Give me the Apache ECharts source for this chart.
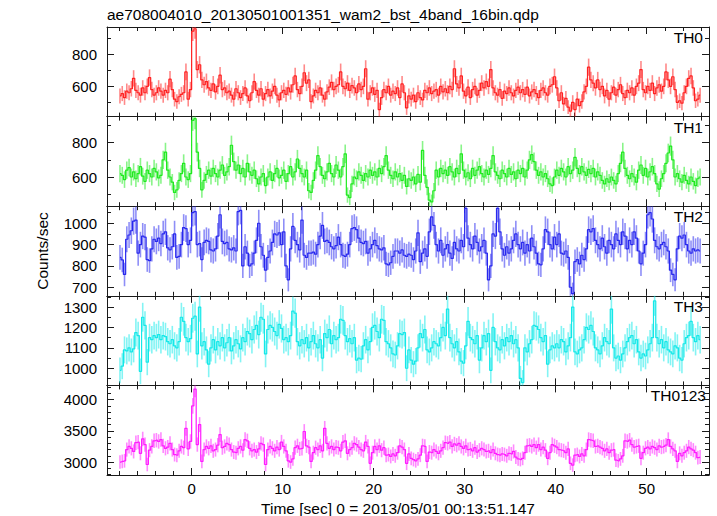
<!DOCTYPE html>
<html><head><meta charset="utf-8">
<script src="https://cdn.jsdelivr.net/npm/echarts@6/dist/echarts.min.js"></script>
<style>html,body{margin:0;padding:0;background:#fff}#c{width:717px;height:516px}</style>
</head><body><div id="c"></div>
<script>
const TITLE = 'ae708004010_20130501001351_wam2_bst_4band_16bin.qdp';
const X_TITLE = 'Time [sec] 0 = 2013/05/01 00:13:51.147';
const Y_TITLE = 'Counts/sec';
const BAND_NAMES = ['TH0', 'TH1', 'TH2', 'TH3', 'TH0123'];
const T_START = -7.875;   // centre of first 16-bin (0.25 s) time bin
const BIN = 0.25;

const th0 = [
540,555,530,570,560,585,650,575,560,545,590,560,600,655,580,545,
560,590,570,545,575,560,645,580,520,505,535,550,560,690,520,580,
945,960,705,735,640,610,630,590,575,615,565,600,670,580,590,560,
570,545,520,585,560,530,555,590,540,510,560,630,575,545,585,520,
555,580,540,570,600,545,515,560,575,550,590,565,610,665,580,555,
600,685,620,640,505,540,575,560,590,545,520,565,595,625,580,600,
610,690,600,585,620,575,605,590,560,615,580,600,710,520,560,590,
550,575,455,530,580,560,600,545,570,555,590,530,615,560,465,540,
520,545,505,560,530,515,575,560,590,555,570,580,545,600,565,585,
560,600,580,710,615,590,665,570,540,595,530,580,600,545,575,620,
590,630,600,705,590,560,545,580,525,570,555,590,560,540,575,595,
560,580,550,595,540,565,580,555,530,575,590,560,545,600,610,660,
590,510,560,490,525,470,445,500,455,520,480,505,565,600,720,640,
620,590,640,580,600,540,575,520,560,595,545,580,610,555,530,575,
560,590,545,600,620,705,580,560,600,575,620,555,590,610,570,600,
690,640,600,660,580,500,510,495,560,600,650,665,590,510,520,545];

const th1 = [
620,610,585,640,655,600,630,590,620,660,605,575,640,620,600,650,
630,595,610,700,745,640,600,570,510,525,580,620,680,600,585,620,
930,940,745,650,525,580,615,640,605,650,620,600,640,670,610,630,
660,785,690,640,670,620,650,600,680,630,610,640,590,560,600,620,
550,600,630,580,620,650,595,610,640,575,620,660,600,630,705,650,
620,600,640,520,510,580,640,725,660,610,590,630,680,620,600,670,
640,600,660,735,495,480,560,600,590,630,610,580,620,600,640,610,
630,600,650,620,660,725,640,610,590,630,600,620,580,610,545,590,
580,600,560,615,570,755,610,540,465,455,520,640,600,650,620,640,
610,660,630,600,650,620,735,640,600,625,590,650,610,640,660,620,
600,640,615,650,725,630,610,590,640,620,600,650,615,630,590,640,
620,650,600,640,700,730,690,640,610,630,600,620,590,560,550,600,
640,610,650,630,600,660,620,640,715,650,620,660,630,610,645,620,
650,600,630,610,580,560,590,570,600,580,560,620,680,745,650,610,
590,620,600,570,640,670,610,650,600,630,660,620,560,530,590,620,
680,740,780,700,600,620,590,570,610,580,560,600,575,550,590,600];

const th2 = [
840,828,760,925,945,965,1010,1015,860,900,940,935,830,825,880,925,
915,930,905,950,960,885,875,890,950,840,845,900,980,975,900,920,
1050,1055,900,905,830,910,920,915,875,870,880,940,1040,915,905,910,
880,875,885,870,1055,1060,800,890,860,800,810,860,920,1000,890,850,
780,840,870,910,950,945,955,900,960,800,735,880,985,920,900,875,
1015,850,840,860,860,865,855,900,940,990,915,920,910,890,880,895,
935,900,850,845,855,900,975,980,970,930,910,905,915,860,880,900,
920,895,880,875,885,810,805,815,845,870,870,860,875,850,845,855,
850,830,870,955,820,860,880,845,960,1030,990,900,870,920,850,880,
900,860,835,910,880,870,920,890,1070,930,900,880,940,910,870,890,
920,860,735,800,950,940,1070,960,880,850,890,860,880,920,950,900,
880,910,860,900,870,930,890,860,810,805,880,970,960,900,880,935,
900,950,860,855,870,840,700,670,820,830,810,850,830,880,970,960,
975,920,900,880,930,890,860,920,900,880,950,920,900,960,940,880,
920,900,960,930,870,810,860,900,1040,1050,1020,920,890,880,900,910,
890,870,780,760,735,880,940,930,945,900,870,860,880,870,875,870];

const th3 = [
990,1010,1090,1085,1100,1080,1095,1175,1160,985,1250,1210,1030,1150,1140,1160,
1150,1165,1140,1160,1155,1130,1120,1140,1110,1100,1130,1250,1230,1150,1130,1145,
1245,1255,1070,1300,1110,1130,1090,1020,1100,1140,1090,1130,1110,1150,1100,1125,
1150,1085,1110,1140,1120,1095,1150,1130,1180,1170,1140,1190,1210,1165,1250,1240,
1070,1190,1210,1200,1180,1160,1215,1195,1140,1150,1130,1160,1280,1270,1130,1110,
1140,1120,1150,1100,1130,1160,1120,1100,1140,1050,1170,1150,1190,1120,1160,1140,
1150,1240,1235,1160,1130,1145,1120,1150,1040,1050,1045,1110,1140,1090,1130,1200,
1210,1180,1150,1240,1235,1130,1120,1100,1070,1065,1110,1170,1165,1175,1000,1090,
1040,1020,1035,1100,1170,1150,1190,1090,1080,1100,1130,1120,1110,1150,1200,1160,
1290,1150,1120,1100,1130,1080,1035,1025,1110,1230,1150,1140,1120,1160,1040,1100,
1160,1130,1170,990,1200,1130,1100,1090,1140,1110,1150,1130,1160,1120,1140,1100,
950,930,1100,1080,1120,1140,1210,1205,1190,1150,1130,1160,1020,1090,1110,1100,
1120,1100,1140,1130,1080,1110,1150,1300,1080,1070,1090,1100,1140,1200,1190,1210,
1180,1100,1090,1070,1110,1150,1130,1120,1290,1100,1050,1060,1040,1070,1100,1130,
1150,1160,1120,1140,1080,1050,1070,1060,1090,1120,1150,1330,1150,1120,1140,1100,
1130,1090,1080,1070,1110,1100,1050,1040,1120,1150,1160,1230,1150,1130,1160,1140];

const th0123 = [
3000,3010,3020,3200,3250,3220,3170,3310,3320,3140,3370,3280,2960,3190,3250,3340,
3350,3330,3360,3260,3220,3240,3300,3200,3120,3110,3180,3250,3230,3540,3210,3330,
3900,4170,3280,3600,3010,3200,3250,3220,3260,3180,3200,3270,3440,3230,3250,3300,
3280,3200,3160,3150,3220,3250,3190,3360,3340,3220,3180,3200,3160,3210,3300,3280,
2960,3200,3250,3220,3180,3240,3200,3320,3250,3180,3020,3000,3050,3230,3260,3210,
3220,3490,3260,3240,3010,3150,3230,3200,3260,3180,3540,3300,3220,3250,3200,3240,
3230,3180,3320,3340,3140,3200,3230,3300,3280,3240,3200,3180,3320,3250,2980,3150,
3250,3200,3260,3190,3230,3110,3120,3090,3130,3100,3150,3260,3240,3200,2980,3130,
3060,3040,3020,3050,3110,3260,3250,3010,3160,3150,3200,3170,3140,3180,3230,3310,
3300,3320,3250,3290,3270,3300,3250,3220,3260,3200,3210,3180,3230,3160,3190,3220,
3200,3170,3180,3150,3200,3140,3120,3110,3130,3120,3100,3140,3130,3170,3080,3050,
3040,3060,3150,3260,3270,3250,3280,3230,3280,3200,3240,3190,3060,3150,3280,3260,
3240,3200,3190,3180,3150,3210,2980,2950,3110,3120,3090,3130,3100,3200,3360,3350,
3340,3250,3260,3240,3220,3180,3210,3150,3190,3200,3030,3020,3050,3100,3340,3330,
3350,3280,3240,3250,3260,3060,3150,3220,3240,3210,3250,3230,3200,3260,3240,3250,
3270,3360,3250,3210,3180,3010,3140,3100,3150,3180,3240,3210,3190,3150,3070,3080];

const xTickLabels = [0, 10, 20, 30, 40, 50];
const xMinorTicks = [-8,-6,-4,-2,2,4,6,8,12,14,16,18,22,24,26,28,32,34,36,38,42,44,46,48,52,54,56];

const th0Ticks = [600, 800];            const th0Minor = [500, 700, 900];
const th1Ticks = [600, 800];            const th1Minor = [500, 700, 900];
const th2Ticks = [700, 800, 900, 1000]; const th2Minor = [750, 850, 950, 1050];
const th3Ticks = [1000, 1100, 1200, 1300]; const th3Minor = [950, 1050, 1150, 1250, 1350];
const th0123Ticks = [3000, 3500, 4000];
const th0123Minor = [2800, 2900, 3100, 3200, 3300, 3400, 3600, 3700, 3800, 3900, 4100, 4200];

// ---- presentation ----
const bands = [th0, th1, th2, th3, th0123];
const majorTicks = [th0Ticks, th1Ticks, th2Ticks, th3Ticks, th0123Ticks];
const minorTicks = [th0Minor, th1Minor, th2Minor, th3Minor, th0123Minor];
const yRange = [[411, 971], [430, 952], [660, 1080], [916, 1355], [2792, 4229]];
const lineColors = ['#ff2020', '#1eea1e', '#2828ee', '#14e8e8', '#ff1cff'];
const errColors = ['rgba(255,40,40,0.55)', 'rgba(40,235,40,0.55)', 'rgba(50,50,240,0.55)', 'rgba(30,235,235,0.55)', 'rgba(255,40,255,0.55)'];
const X_MIN = -9.3, X_MAX = 56.85;
const LEFT = 107, WIDTH = 602, TOP = 27, PH = 89.6;
const FONT = '"Liberation Sans", Arial, Helvetica, sans-serif';
const FS = 15;
const FS_T = 15.5;

const chart = echarts.init(document.getElementById('c'), null, {renderer: 'svg', width: 717, height: 516});

const grids = [], xAxes = [], yAxes = [], series = [], graphics = [];
bands.forEach((vals, k) => {
  const top = TOP + k * PH;
  grids.push({left: LEFT, top: top, width: WIDTH, height: PH, show: false});
  const mkX = (pos, major) => ({
    type: 'value', gridIndex: k, position: pos, min: X_MIN, max: X_MAX,
    axisLine: {show: major, onZero: false, lineStyle: {color: '#1a1a1a', width: 1}},
    axisTick: {show: true, inside: true, length: major ? 7 : 4,
      customValues: major ? xTickLabels : xMinorTicks, lineStyle: {color: '#1a1a1a'}},
    axisLabel: {show: major && pos === 'bottom' && k === bands.length - 1,
      customValues: xTickLabels, formatter: v => String(v),
      color: '#000', fontFamily: FONT, fontSize: FS, margin: 6},
    splitLine: {show: false}
  });
  xAxes.push(mkX('bottom', true), mkX('bottom', false), mkX('top', true), mkX('top', false));
  const mkY = (pos, major) => ({
    type: 'value', gridIndex: k, position: pos, min: yRange[k][0], max: yRange[k][1],
    axisLine: {show: major, onZero: false, lineStyle: {color: '#1a1a1a', width: 1}},
    axisTick: {show: true, inside: true, length: major ? 7 : 4,
      customValues: major ? majorTicks[k] : minorTicks[k], lineStyle: {color: '#1a1a1a'}},
    axisLabel: {show: major && pos === 'left', customValues: majorTicks[k],
      formatter: v => String(v),
      color: '#000', fontFamily: FONT, fontSize: FS, margin: 10},
    splitLine: {show: false}
  });
  yAxes.push(mkY('left', true), mkY('left', false), mkY('right', true), mkY('right', false));

  const pts = vals.map((v, i) => [T_START + i * BIN, v, Math.sqrt(v / BIN)]);
  series.push({
    type: 'custom', xAxisIndex: 4 * k, yAxisIndex: 4 * k, silent: true, animation: false,
    data: pts, encode: {x: 0, y: 1},
    renderItem: (params, api) => {
      const t = api.value(0), v = api.value(1), e = api.value(2);
      const cs = params.coordSys;
      const p1 = api.coord([t, v - e]), p2 = api.coord([t, v + e]);
      const clamp = y => Math.max(cs.y, Math.min(cs.y + cs.height, y));
      return {type: 'line', shape: {x1: p1[0], y1: clamp(p1[1]), x2: p2[0], y2: clamp(p2[1])},
        style: {stroke: errColors[k], lineWidth: 1.6}};
    }
  });
  series.push({
    type: 'line', step: 'middle', xAxisIndex: 4 * k, yAxisIndex: 4 * k, silent: true,
    animation: false, symbol: 'none', clip: true,
    data: pts.map(p => [p[0], p[1]]),
    lineStyle: {color: lineColors[k], width: 1.2}
  });
  graphics.push({type: 'text', silent: true,
    style: {x: k === 4 ? 706 : 703, y: top + 10.5, text: BAND_NAMES[k], fill: '#000',
      font: FS_T + 'px ' + FONT, textAlign: 'right', textVerticalAlign: 'middle'}});
});

graphics.push({type: 'text', silent: true,
  style: {x: 107, y: 14, text: TITLE, fill: '#000', font: FS_T + 'px ' + FONT,
    textAlign: 'left', textVerticalAlign: 'middle'}});
graphics.push({type: 'text', silent: true,
  style: {x: 398, y: 508, text: X_TITLE, fill: '#000', font: FS_T + 'px ' + FONT,
    textAlign: 'center', textVerticalAlign: 'middle'}});
graphics.push({type: 'text', silent: true, x: 42, y: 251, rotation: Math.PI / 2,
  style: {x: 0, y: 0, text: Y_TITLE, fill: '#000', font: FS_T + 'px ' + FONT,
    textAlign: 'center', textVerticalAlign: 'middle'}});

chart.setOption({
  backgroundColor: '#fff', animation: false,
  grid: grids, xAxis: xAxes, yAxis: yAxes, series: series, graphic: graphics
});
</script></body></html>
